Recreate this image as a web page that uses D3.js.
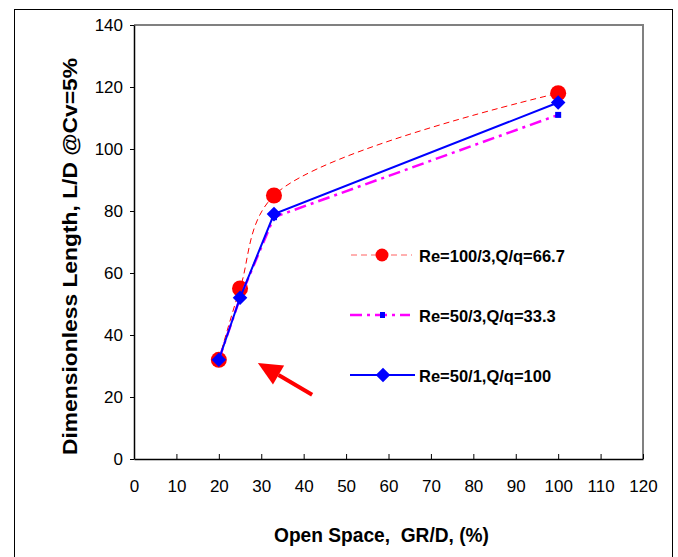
<!DOCTYPE html>
<html lang="en">
<head>
<meta charset="UTF-8">
<title>L/D vs open space</title>
<script src="https://cdn.jsdelivr.net/npm/d3@7"></script>
<style>
  body { margin: 0; background: #fff; }
  text { font-family: "Liberation Sans", Arial, sans-serif; }
</style>
</head>
<body>
<div id="main_container"></div>
<script>
    var svgWidth = 678;
    var svgHeight = 557;

    // data
    var openSpace = [20, 25, 33, 100];
    var ldRe100 = [32, 55, 85, 118];   // Re=100/3, Q/q=66.7
    var ldRe50_3 = [32, 52, 78, 111];  // Re=50/3, Q/q=33.3
    var ldRe50_1 = [32, 52, 79, 115];  // Re=50/1, Q/q=100
    var xTicks = d3.range(0, 121, 10);
    var yTicks = d3.range(0, 141, 20);
    var legendLabels = ["Re=100/3,Q/q=66.7", "Re=50/3,Q/q=33.3", "Re=50/1,Q/q=100"];
    // arrow annotation, data units: tail then tip
    var arrowPts = [[42, 20.7], [29.2, 31]];

    var plot = {left: 134, right: 643, top: 25, bottom: 459};

    var svg = d3.select("#main_container").append("svg")
        .attr("width", svgWidth)
        .attr("height", svgHeight);

    // outer frame
    svg.append("rect")
        .attr("x", 14.5).attr("y", 9.5)
        .attr("width", 658).attr("height", 560)
        .attr("fill", "#fff").attr("stroke", "#000").attr("stroke-width", 1);

    var x = d3.scaleLinear().domain([0, 120]).range([plot.left, plot.right]);
    var y = d3.scaleLinear().domain([0, 140]).range([plot.bottom, plot.top]);

    // plot area border (grey top/right)
    svg.append("path")
        .attr("d", "M" + plot.left + "," + plot.top + "H" + plot.right + "V" + plot.bottom)
        .attr("fill", "none").attr("stroke", "#808080").attr("stroke-width", 2);

    var xAxis = svg.append("g")
        .attr("transform", "translate(0," + plot.bottom + ")")
        .call(d3.axisBottom(x).tickValues(xTicks).tickSizeInner(-5).tickSizeOuter(0).tickPadding(21));
    var yAxis = svg.append("g")
        .attr("transform", "translate(" + plot.left + ",0)")
        .call(d3.axisLeft(y).tickValues(yTicks).tickSizeInner(4).tickSizeOuter(0).tickPadding(7));

    [xAxis, yAxis].forEach(function(ax){
        ax.select(".domain").attr("stroke", "#000").attr("stroke-width", 1.5);
        ax.selectAll("line").attr("stroke", "#000");
        ax.selectAll("text")
            .style("font-family", "'Liberation Sans', Arial, sans-serif")
            .style("font-size", "17px")
            .attr("fill", "#000");
    });

    // axis titles
    svg.append("text")
        .attr("x", 274).attr("y", 542)
        .attr("textLength", 215).attr("lengthAdjust", "spacingAndGlyphs")
        .style("font-size", "20px").style("font-weight", "bold")
        .style("white-space", "pre")
        .text("Open Space,  GR/D, (%)");
    svg.append("text")
        .attr("transform", "translate(77,455) rotate(-90)")
        .attr("textLength", 397).attr("lengthAdjust", "spacingAndGlyphs")
        .style("font-size", "20px").style("font-weight", "bold")
        .text("Dimensionless Length, L/D @Cv=5%");

    function pts(ys) {
        return openSpace.map(function(v, i){ return [v, ys[i]]; });
    }

    var smooth = d3.line().x(function(d){ return x(d[0]); }).y(function(d){ return y(d[1]); })
        .curve(d3.curveCatmullRom.alpha(0.5));
    var straight = d3.line().x(function(d){ return x(d[0]); }).y(function(d){ return y(d[1]); });

    // Re=100/3 : red dashed smoothed line
    svg.append("path").attr("d", smooth(pts(ldRe100)))
        .attr("fill", "none").attr("stroke", "#ff0000").attr("stroke-width", 1)
        .attr("stroke-dasharray", "6,4");
    svg.selectAll(".c1").data(pts(ldRe100)).enter().append("circle")
        .attr("cx", function(d){ return x(d[0]); })
        .attr("cy", function(d){ return y(d[1]); })
        .attr("r", 8).attr("fill", "#ff0000");

    // Re=50/3 : magenta dash-dot
    svg.append("path").attr("d", straight(pts(ldRe50_3)))
        .attr("fill", "none").attr("stroke", "#ff00ff").attr("stroke-width", 2.5)
        .attr("stroke-dasharray", "12,5,3,5");
    svg.selectAll(".s2").data(pts(ldRe50_3)).enter().append("rect")
        .attr("x", function(d){ return x(d[0]) - 3; })
        .attr("y", function(d){ return y(d[1]) - 3; })
        .attr("width", 6).attr("height", 6).attr("fill", "#0000ff");

    // Re=50/1 : solid blue with diamonds
    svg.append("path").attr("d", straight(pts(ldRe50_1)))
        .attr("fill", "none").attr("stroke", "#0000ff").attr("stroke-width", 2);
    var diamond = d3.symbol().type(d3.symbolDiamond2).size(135);
    svg.selectAll(".d3s").data(pts(ldRe50_1)).enter().append("path")
        .attr("d", diamond)
        .attr("transform", function(d){ return "translate(" + x(d[0]) + "," + y(d[1]) + ")"; })
        .attr("fill", "#0000ff");

    // legend
    var legY = [255, 315, 375];
    var lg = svg.append("g");
    // entry 1
    lg.append("line").attr("x1", 351).attr("x2", 412).attr("y1", legY[0]).attr("y2", legY[0])
        .attr("stroke", "#ff6060").attr("stroke-width", 1).attr("stroke-dasharray", "6,4");
    lg.append("circle").attr("cx", 382).attr("cy", legY[0]).attr("r", 6.5).attr("fill", "#ff0000");
    // entry 2
    lg.append("line").attr("x1", 350).attr("x2", 410).attr("y1", legY[1]).attr("y2", legY[1])
        .attr("stroke", "#ff00ff").attr("stroke-width", 2.5).attr("stroke-dasharray", "12,5,3,5");
    lg.append("rect").attr("x", 380).attr("y", legY[1] - 3).attr("width", 5).attr("height", 6).attr("fill", "#0000ff");
    // entry 3
    lg.append("line").attr("x1", 350).attr("x2", 415).attr("y1", legY[2]).attr("y2", legY[2])
        .attr("stroke", "#0000ff").attr("stroke-width", 2);
    lg.append("path").attr("d", diamond)
        .attr("transform", "translate(383," + legY[2] + ")").attr("fill", "#0000ff");

    lg.selectAll(".lt").data(legendLabels).enter().append("text")
        .attr("x", 419)
        .attr("y", function(d, i){ return legY[i] + 6.5; })
        .style("font-size", "16.5px").style("font-weight", "bold")
        .text(function(d){ return d; });

    // red arrow annotation
    var tail = [x(arrowPts[0][0]), y(arrowPts[0][1])];
    var tip = [x(arrowPts[1][0]), y(arrowPts[1][1])];
    var ang = Math.atan2(tip[1] - tail[1], tip[0] - tail[0]);
    var headLen = 24, headW = 11;
    var bx = tip[0] - headLen * Math.cos(ang), by = tip[1] - headLen * Math.sin(ang);
    svg.append("line")
        .attr("x1", tail[0]).attr("y1", tail[1]).attr("x2", bx).attr("y2", by)
        .attr("stroke", "#ff0000").attr("stroke-width", 4);
    svg.append("path")
        .attr("d", "M" + tip[0] + "," + tip[1] +
            "L" + (bx + headW * Math.sin(ang)) + "," + (by - headW * Math.cos(ang)) +
            "L" + (bx - headW * Math.sin(ang)) + "," + (by + headW * Math.cos(ang)) + "Z")
        .attr("fill", "#ff0000");
</script>
</body>
</html>
